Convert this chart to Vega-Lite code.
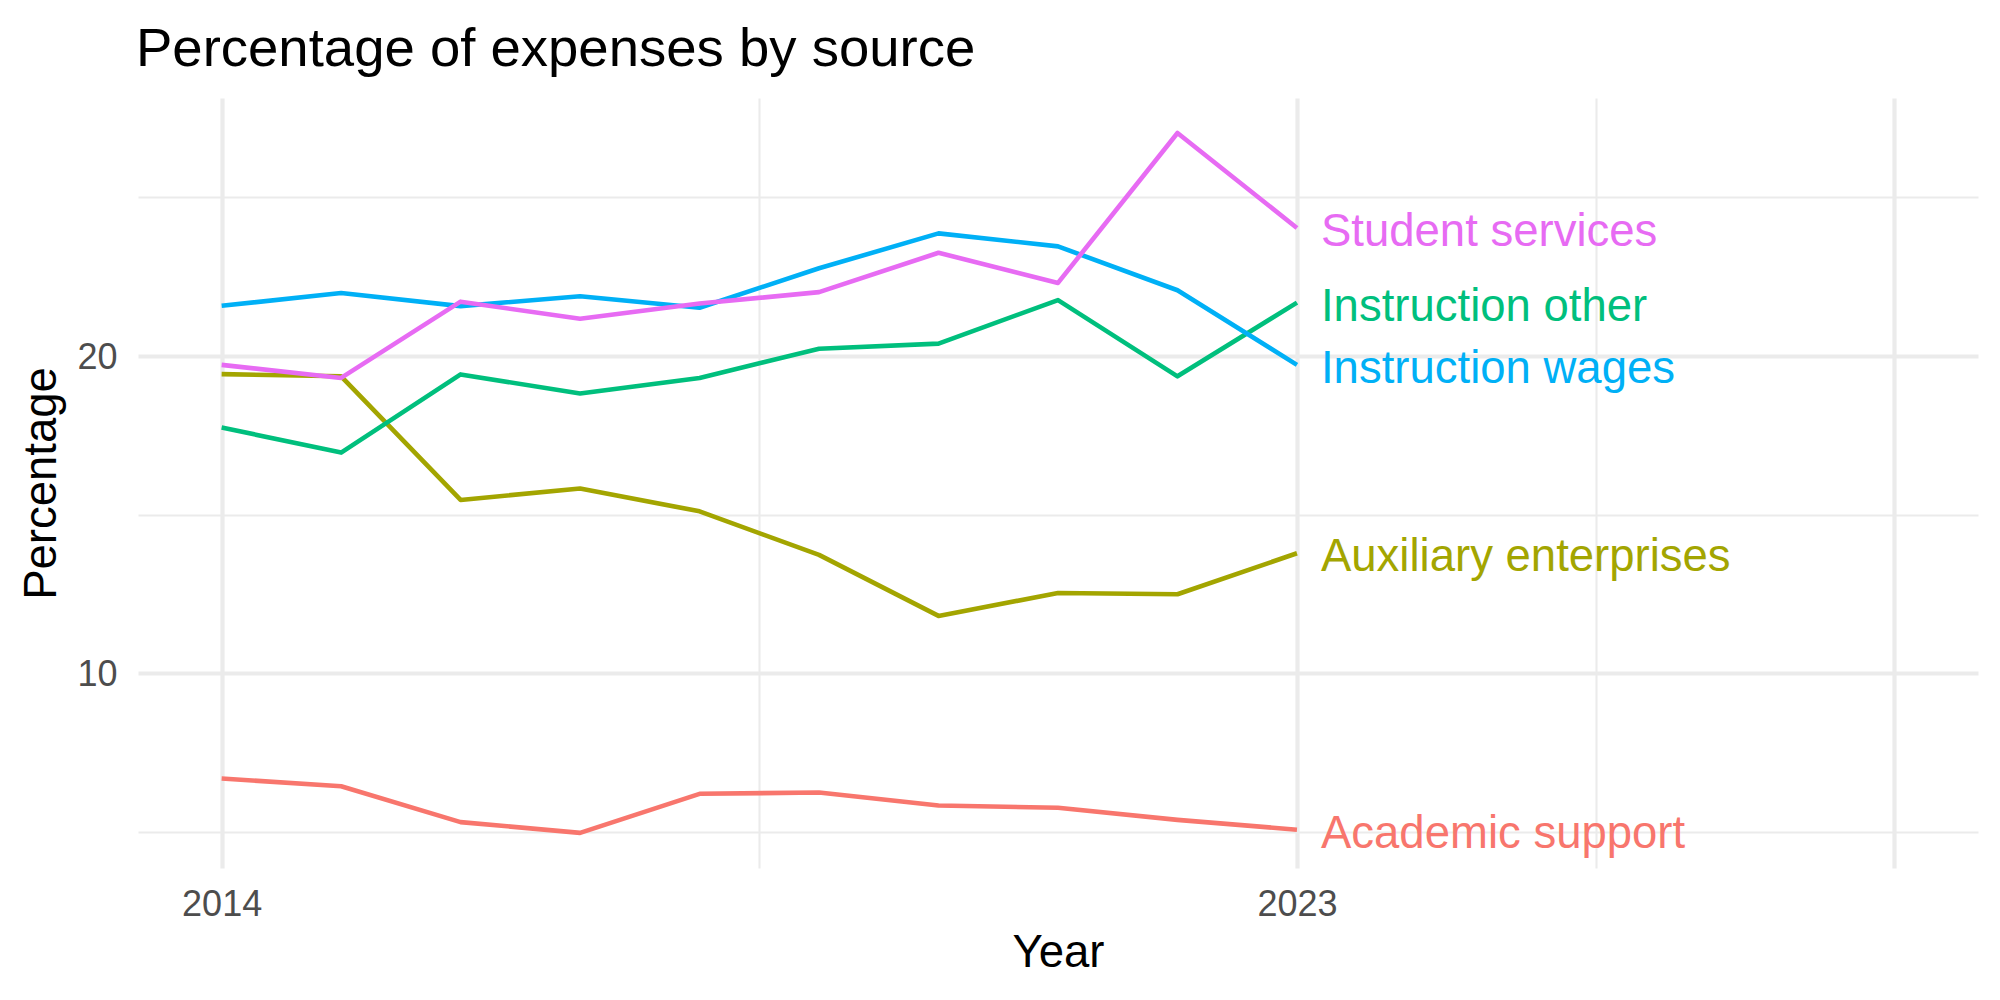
{
  "$schema": "https://vega.github.io/schema/vega-lite/v6.json",
  "width": 1840,
  "height": 770,
  "autosize": {"type": "none"},
  "padding": {"left": 138, "top": 98, "right": 22, "bottom": 132},
  "background": "white",
  "title": {
    "text": "Percentage of expenses by source",
    "anchor": "start",
    "frame": "group",
    "font": "Liberation Sans",
    "fontSize": 54.5,
    "fontWeight": "normal",
    "color": "black",
    "baseline": "alphabetic",
    "offset": 35,
    "dx": -2,
    "dy": 57
  },
  "config": {"view": {"stroke": null}},
  "data": {
    "values": [
      {"Year": 2014, "Source": "Academic support", "Percentage": 6.69},
      {"Year": 2015, "Source": "Academic support", "Percentage": 6.45},
      {"Year": 2016, "Source": "Academic support", "Percentage": 5.32},
      {"Year": 2017, "Source": "Academic support", "Percentage": 4.98},
      {"Year": 2018, "Source": "Academic support", "Percentage": 6.21},
      {"Year": 2019, "Source": "Academic support", "Percentage": 6.25},
      {"Year": 2020, "Source": "Academic support", "Percentage": 5.84},
      {"Year": 2021, "Source": "Academic support", "Percentage": 5.77},
      {"Year": 2022, "Source": "Academic support", "Percentage": 5.39},
      {"Year": 2023, "Source": "Academic support", "Percentage": 5.08},
      {"Year": 2014, "Source": "Auxiliary enterprises", "Percentage": 19.42},
      {"Year": 2015, "Source": "Auxiliary enterprises", "Percentage": 19.35},
      {"Year": 2016, "Source": "Auxiliary enterprises", "Percentage": 15.46},
      {"Year": 2017, "Source": "Auxiliary enterprises", "Percentage": 15.82},
      {"Year": 2018, "Source": "Auxiliary enterprises", "Percentage": 15.1},
      {"Year": 2019, "Source": "Auxiliary enterprises", "Percentage": 13.73},
      {"Year": 2020, "Source": "Auxiliary enterprises", "Percentage": 11.81},
      {"Year": 2021, "Source": "Auxiliary enterprises", "Percentage": 12.53},
      {"Year": 2022, "Source": "Auxiliary enterprises", "Percentage": 12.49},
      {"Year": 2023, "Source": "Auxiliary enterprises", "Percentage": 13.78},
      {"Year": 2014, "Source": "Instruction other", "Percentage": 17.74},
      {"Year": 2015, "Source": "Instruction other", "Percentage": 16.95},
      {"Year": 2016, "Source": "Instruction other", "Percentage": 19.41},
      {"Year": 2017, "Source": "Instruction other", "Percentage": 18.81},
      {"Year": 2018, "Source": "Instruction other", "Percentage": 19.3},
      {"Year": 2019, "Source": "Instruction other", "Percentage": 20.22},
      {"Year": 2020, "Source": "Instruction other", "Percentage": 20.38},
      {"Year": 2021, "Source": "Instruction other", "Percentage": 21.75},
      {"Year": 2022, "Source": "Instruction other", "Percentage": 19.35},
      {"Year": 2023, "Source": "Instruction other", "Percentage": 21.67},
      {"Year": 2014, "Source": "Instruction wages", "Percentage": 21.57},
      {"Year": 2015, "Source": "Instruction wages", "Percentage": 21.97},
      {"Year": 2016, "Source": "Instruction wages", "Percentage": 21.56},
      {"Year": 2017, "Source": "Instruction wages", "Percentage": 21.87},
      {"Year": 2018, "Source": "Instruction wages", "Percentage": 21.51},
      {"Year": 2019, "Source": "Instruction wages", "Percentage": 22.75},
      {"Year": 2020, "Source": "Instruction wages", "Percentage": 23.85},
      {"Year": 2021, "Source": "Instruction wages", "Percentage": 23.44},
      {"Year": 2022, "Source": "Instruction wages", "Percentage": 22.06},
      {"Year": 2023, "Source": "Instruction wages", "Percentage": 19.71},
      {"Year": 2014, "Source": "Student services", "Percentage": 19.71},
      {"Year": 2015, "Source": "Student services", "Percentage": 19.3},
      {"Year": 2016, "Source": "Student services", "Percentage": 21.7},
      {"Year": 2017, "Source": "Student services", "Percentage": 21.16},
      {"Year": 2018, "Source": "Student services", "Percentage": 21.64},
      {"Year": 2019, "Source": "Student services", "Percentage": 22.0},
      {"Year": 2020, "Source": "Student services", "Percentage": 23.24},
      {"Year": 2021, "Source": "Student services", "Percentage": 22.29},
      {"Year": 2022, "Source": "Student services", "Percentage": 27.01},
      {"Year": 2023, "Source": "Student services", "Percentage": 24.02}
    ]
  },
  "encoding": {
    "x": {
      "field": "Year",
      "type": "quantitative",
      "scale": {"domain": [2013.3, 2028.7], "nice": false, "zero": false},
      "axis": {
        "title": "Year",
        "values": [2014, 2018.5, 2023, 2025.5, 2028],
        "format": "d",
        "labelExpr": "datum.value == 2014 || datum.value == 2023 ? datum.label : ''",
        "grid": true,
        "gridColor": "#EBEBEB",
        "gridWidth": {"condition": {"test": "datum.value == 2018.5 || datum.value == 2025.5", "value": 2.1}, "value": 4.2},
        "domain": false,
        "ticks": false,
        "tickSize": 0,
        "labelPadding": 47,
        "labelBaseline": "alphabetic",
        "labelFont": "Liberation Sans",
        "labelFontSize": 36,
        "labelColor": "#4D4D4D",
        "labelFlush": false,
        "labelOverlap": false,
        "titleFont": "Liberation Sans",
        "titleFontSize": 45.5,
        "titleFontWeight": "normal",
        "titleColor": "black",
        "titleBaseline": "alphabetic",
        "titleAlign": "center",
        "titleX": 920,
        "titleY": 98
      }
    },
    "y": {
      "field": "Percentage",
      "type": "quantitative",
      "scale": {"domain": [3.875, 28.11], "nice": false, "zero": false},
      "axis": {
        "title": "Percentage",
        "values": [5, 10, 15, 20, 25],
        "labelExpr": "datum.value == 10 || datum.value == 20 ? datum.label : ''",
        "grid": true,
        "gridColor": "#EBEBEB",
        "gridWidth": {"condition": {"test": "datum.value == 5 || datum.value == 15 || datum.value == 25", "value": 2.1}, "value": 4.2},
        "domain": false,
        "ticks": false,
        "tickSize": 0,
        "labelPadding": 21,
        "labelBaseline": "alphabetic",
        "labelOffset": 12.5,
        "labelFont": "Liberation Sans",
        "labelFontSize": 36,
        "labelColor": "#4D4D4D",
        "labelFlush": false,
        "labelOverlap": false,
        "titleFont": "Liberation Sans",
        "titleFontSize": 45.5,
        "titleFontWeight": "normal",
        "titleColor": "black",
        "titleBaseline": "alphabetic",
        "titleAlign": "center",
        "titleAngle": -90,
        "titleX": -83,
        "titleY": 385
      }
    },
    "color": {
      "field": "Source",
      "type": "nominal",
      "scale": {
        "domain": ["Academic support", "Auxiliary enterprises", "Instruction other", "Instruction wages", "Student services"],
        "range": ["#F8766D", "#A3A500", "#00BF7D", "#00B0F6", "#E76BF3"]
      },
      "legend": null
    }
  },
  "layer": [
    {
      "mark": {"type": "line", "strokeWidth": 4.6, "strokeJoin": "round", "strokeCap": "butt"}
    },
    {
      "transform": [{"filter": "datum.Year == 2023"}],
      "mark": {"type": "text", "align": "left", "baseline": "alphabetic", "dx": 24, "dy": 18, "font": "Liberation Sans", "fontSize": 45.5},
      "encoding": {"text": {"field": "Source"}}
    }
  ]
}
